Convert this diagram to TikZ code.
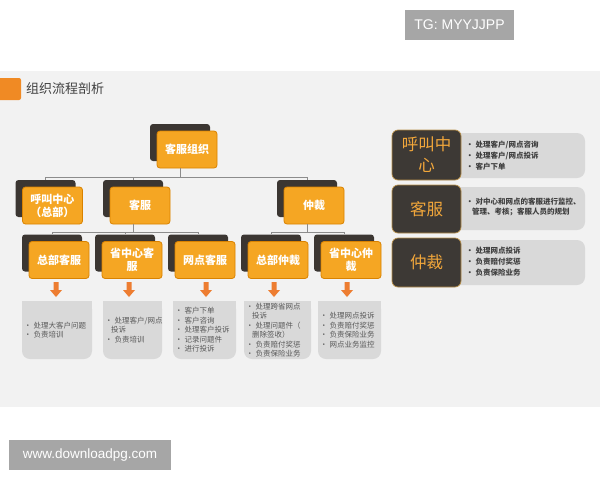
\documentclass[tikz,border=0pt]{standalone}
\usepackage{fontspec}
\setmainfont{Liberation Sans}
\newfontfamily\cjk{Noto Sans CJK SC}
\definecolor{band}{HTML}{F2F2F2}
\definecolor{wm}{HTML}{A6A6A6}
\definecolor{titleor}{HTML}{F08A24}
\definecolor{titletxt}{HTML}{404040}
\definecolor{orgor}{HTML}{F5A623}
\definecolor{orgedge}{HTML}{D98200}
\definecolor{shadowc}{HTML}{3B3632}
\definecolor{connc}{HTML}{8C8C8C}
\definecolor{arrowor}{HTML}{ED7D31}
\definecolor{boxgray}{HTML}{D9D9D9}
\definecolor{txtgray}{HTML}{595959}
\definecolor{paneltxt}{HTML}{404040}
\definecolor{darkpanel}{HTML}{3D3935}
\definecolor{goldtxt}{HTML}{F2A73B}
\definecolor{goldedge}{HTML}{B8904A}
\newcommand\itm{\textbullet\hspace{2pt}}
\newcommand\orgbox[4]{%
  \node[orgshadow] (#1-s) at (#2-7,#3-7) {};
  \node[orgfront] (#1) at (#2,#3) {#4};}
\newcommand\downarr[2]{%
  \coordinate (#1) at (#2,282);
  \fill[arrowor] (#1) ++(-2.5,0) -- ++(5,0) -- ++(0,8) -- ++(3.5,0) -- ++(-6,7) -- ++(-6,-7) -- ++(3.5,0) -- cycle;}
\newcommand\graybox[4]{%
  \fill[boxgray, rounded corners=8pt] (#2,301) rectangle (#3,359);
  \fill[boxgray] (#2,301) rectangle (#3,325);
  \node[graytext] (#1) at (#2+2,330) {#4};}
\begin{document}
\begin{tikzpicture}[x=1pt,y=-1pt,
  orgfront/.style={draw=orgedge, line width=0.8pt, fill=orgor, rounded corners=3pt,
    minimum width=60pt, minimum height=37pt, inner sep=1pt, align=center, text=white,
    font=\cjk\bfseries\fontsize{11}{13}\selectfont},
  orgshadow/.style={fill=shadowc, rounded corners=3pt, minimum width=60pt, minimum height=37pt, inner sep=0pt},
  connl/.style={draw=connc, line width=0.7pt},
  graytext/.style={anchor=west, align=left, inner sep=0pt, text=txtgray,
    font=\cjk\fontsize{7.5}{9.5}\selectfont},
  darkbox/.style={fill=darkpanel, draw=goldedge, line width=0.7pt, rounded corners=6pt,
    minimum width=69pt, inner sep=0pt, align=center, text=goldtxt,
    font=\cjk\fontsize{16.5}{21}\selectfont},
  paneltext/.style={anchor=west, align=left, inner sep=0pt, text=paneltxt,
    font=\cjk\bfseries\fontsize{7.5}{11}\selectfont},
  wmbox/.style={fill=wm, text=white, inner sep=0pt, font=\fontsize{14}{16}\selectfont}
]
\useasboundingbox (0,0) rectangle (600,480);
\fill[white] (0,0) rectangle (600,480);
\fill[band] (0,71) rectangle (600,407);

% watermarks
\node[wmbox, minimum width=109pt, minimum height=30pt] (tg) at (459.5,25) {TG: MYYJJPP};
\node[wmbox, minimum width=162pt, minimum height=30pt, font=\fontsize{13.5}{16}\selectfont] (www) at (90,455) {www.downloadpg.com};

% title
\fill[titleor, rounded corners=2pt] (-4,78) rectangle (21,100);
\node[anchor=west, inner sep=0pt, text=titletxt, font=\cjk\fontsize{13}{15}\selectfont] (title) at (26,89) {组织流程剖析};

% org chart boxes
\orgbox{root}{187}{149.5}{客服组织}
\orgbox{hq}{52.5}{205.5}{呼叫中心\\（总部）}
\orgbox{kf}{140}{205.5}{客服}
\orgbox{zc}{314}{205.5}{仲裁}
\orgbox{zbkf}{59}{260}{总部客服}
\orgbox{sjkf}{132}{260}{省中心客\\服}
\orgbox{wdkf}{205}{260}{网点客服}
\orgbox{zbzc}{278}{260}{总部仲裁}
\orgbox{sjzc}{351}{260}{省中心仲\\裁}

% connectors
\draw[connl] (root-s |- root.south) -- ++(0,9) coordinate (j1);
\draw[connl] (j1) -| (hq-s.north);
\draw[connl] (j1) -| (kf-s.north);
\draw[connl] (j1) -| (zc-s.north);
\draw[connl] (kf-s |- kf.south) -- ++(0,8) coordinate (j2);
\draw[connl] (j2) -| (zbkf-s.north);
\draw[connl] (j2) -| (sjkf-s.north);
\draw[connl] (j2) -| (wdkf-s.north);
\draw[connl] (zc-s |- zc.south) -- ++(0,8) coordinate (j3);
\draw[connl] (j3) -| (zbzc-s.north);
\draw[connl] (j3) -| (sjzc-s.north);

% arrows
\downarr{a1}{56}
\downarr{a2}{129}
\downarr{a3}{206}
\downarr{a4}{274}
\downarr{a5}{347}

% bottom gray boxes
\graybox{g1}{22}{92}{\itm 处理大客户问题\\\itm 负责培训}
\graybox{g2}{103}{162}{\itm 处理客户/网点\\\hspace*{6pt}投诉\\\itm 负责培训}
\graybox{g3}{173}{236}{\itm 客户下单\\\itm 客户咨询\\\itm 处理客户投诉\\\itm 记录问题件\\\itm 进行投诉}
\graybox{g4}{244}{311}{\itm 处理跨省网点\\\hspace*{6pt}投诉\\\itm 处理问题件（\\\hspace*{6pt}删除签收）\\\itm 负责赔付奖惩\\\itm 负责保险业务}
\graybox{g5}{318}{381}{\itm 处理网点投诉\\\itm 负责赔付奖惩\\\itm 负责保险业务\\\itm 网点业务监控}

% right panels
\fill[boxgray, rounded corners=8pt] (450,133) rectangle (585,178);
\fill[boxgray, rounded corners=8pt] (450,187) rectangle (585,230);
\fill[boxgray, rounded corners=8pt] (450,240) rectangle (585,285);
\node[darkbox, minimum height=50pt] (p1) at (426.5,155) {呼叫中\\心};
\node[darkbox, minimum height=48pt] (p2) at (426.5,209) {客服};
\node[darkbox, minimum height=49pt] (p3) at (426.5,262.5) {仲裁};
\node[paneltext] (t1) at (466,156) {\itm 处理客户/网点咨询\\\itm 处理客户/网点投诉\\\itm 客户下单};
\node[paneltext, font=\cjk\bfseries\fontsize{7.5}{10}\selectfont] (t2) at (466,207) {\itm 对中心和网点的客服进行监控、\\\hspace*{6pt}管理、考核；客服人员的规划};
\node[paneltext] (t3) at (466,262) {\itm 处理网点投诉\\\itm 负责赔付奖惩\\\itm 负责保险业务};
\end{tikzpicture}
\end{document}
